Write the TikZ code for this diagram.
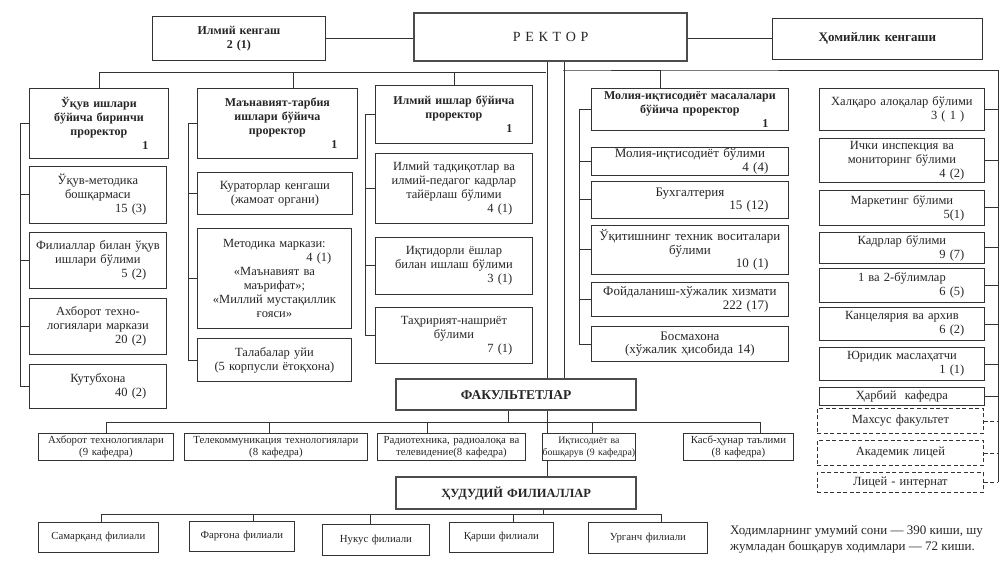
\documentclass[tikz,border=0pt]{standalone}
\usepackage{fontspec}
\setmainfont{Liberation Serif}
\usetikzlibrary{positioning, backgrounds}

\newcommand{\raqam}[1]{\hspace*{\fill}#1\hspace*{20pt}\mbox{}}

\begin{document}
\begin{tikzpicture}[
                x=1pt, y=-1pt,
                every node/.style={font=\fontsize{12.5}{14}\selectfont, text=black!85},
                box/.style 2 args={draw=black!80, fill=white, line width=0.8pt, anchor=north west, inner xsep=0pt, inner ysep=0.5pt, align=center, text width=#1pt, minimum width=#1pt, minimum height=#2pt},
                head/.style={font=\fontsize{12}{14}\selectfont\bfseries},
                wide/.style={font=\fontsize{13}{13.5}\selectfont},
                small/.style={font=\fontsize{10.8}{12}\selectfont},
                bigbox/.style={line width=2.4pt, draw=black!70},
                dbox/.style={dash pattern=on 4pt off 2.5pt},
                link/.style={draw=black!80, line width=0.8pt}
            ]
            \useasboundingbox (0,0) rectangle (1002,580);

            % Rahbariyat
            \node[box={173}{44}, head] (kengash) at (152,16) {Илмий кенгаш\\2 (1)};
            \node[box={273}{48}, bigbox, font=\fontsize{14}{16}\selectfont] (rektor) at (413,12) {Р Е К Т О Р};
            \node[box={210}{41}, head, font=\fontsize{13}{14}\selectfont\bfseries] (homiy) at (772,18) {Ҳомийлик кенгаши};

            % Ustun 1
            \node[box={139}{70}, head] (uq1) at (29,88) {Ўқув ишлари\\бўйича биринчи\\проректор\\\raqam{1}};
            \node[box={137}{57}] (uq2) at (29,166) {Ўқув-методика\\бошқармаси\\\raqam{15 (3)}};
            \node[box={137}{56}] (uq3) at (29,232) {Филиаллар билан ўқув\\ишлари бўлими\\\raqam{5 (2)}};
            \node[box={137}{56}] (uq4) at (29,298) {Ахборот техно-\\логиялари маркази\\\raqam{20 (2)}};
            \node[box={137}{44}] (uq5) at (29,364) {Кутубхона\\\raqam{40 (2)}};

            % Ustun 2
            \node[box={160}{70}, head] (mt1) at (197,88) {Маънавият-тарбия\\ишлари бўйича\\проректор\\\raqam{1}};
            \node[box={155}{42}] (mt2) at (197,172) {Кураторлар кенгаши\\(жамоат органи)};
            \node[box={154}{100}] (mt3) at (197,228) {Методика маркази:\\\raqam{4 (1)}\\«Маънавият ва\\маърифат»;\\«Миллий мустақиллик\\ғояси»};
            \node[box={154}{43}] (mt4) at (197,338) {Талабалар уйи\\(5 корпусли ётоқхона)};

            % Ustun 3
            \node[box={157}{58}, head] (il1) at (375,85) {Илмий ишлар бўйича\\проректор\\\raqam{1}};
            \node[box={157}{70}] (il2) at (375,153) {Илмий тадқиқотлар ва\\илмий-педагог кадрлар\\тайёрлаш бўлими\\\raqam{4 (1)}};
            \node[box={157}{57}] (il3) at (375,237) {Иқтидорли ёшлар\\билан ишлаш бўлими\\\raqam{3 (1)}};
            \node[box={157}{56}] (il4) at (375,307) {Таҳририят-нашриёт\\бўлими\\\raqam{7 (1)}};

            % Ustun 4
            \node[box={197}{42}, head] (mol1) at (591,88) {Молия-иқтисодиёт масалалари\\бўйича проректор\\\raqam{1}};
            \node[box={197}{28}, wide] (mol2) at (591,147) {Молия-иқтисодиёт бўлими\\\raqam{4 (4)}};
            \node[box={197}{37}, wide] (mol3) at (591,181) {Бухгалтерия\\\raqam{15 (12)}};
            \node[box={197}{49}, wide] (mol4) at (591,225) {Ўқитишнинг техник воситалари\\бўлими\\\raqam{10 (1)}};
            \node[box={197}{34}, wide] (mol5) at (591,282) {Фойдаланиш-хўжалик хизмати\\\raqam{222 (17)}};
            \node[box={197}{35}, wide] (mol6) at (591,326) {Босмахона\\(хўжалик ҳисобида 14)};

            % Ustun 5
            \node[box={165}{42}] (xal1) at (819,88) {Халқаро алоқалар бўлими\\\raqam{3 ( 1 )}};
            \node[box={165}{44}] (xal2) at (819,138) {Ички инспекция ва\\мониторинг бўлими\\\raqam{4 (2)}};
            \node[box={165}{35}] (xal3) at (819,190) {Маркетинг бўлими\\\raqam{5(1)}};
            \node[box={165}{31}] (xal4) at (819,232) {Кадрлар бўлими\\\raqam{9 (7)}};
            \node[box={165}{34}] (xal5) at (819,268) {1 ва 2-бўлимлар\\\raqam{6 (5)}};
            \node[box={165}{33}] (xal6) at (819,307) {Канцелярия ва архив\\\raqam{6 (2)}};
            \node[box={165}{33}] (xal7) at (819,347) {Юридик маслаҳатчи\\\raqam{1 (1)}};
            \node[box={165}{18}] (xal8) at (819,387) {Ҳарбий\ \ кафедра};
            \node[box={166}{25}, dbox] (xal9) at (817,408) {Махсус факультет};
            \node[box={166}{25}, dbox] (xal10) at (817,440) {Академик лицей};
            \node[box={166}{20}, dbox] (xal11) at (817,472) {Лицей - интернат};

            % Fakultetlar
            \node[box={240}{31}, bigbox, font=\fontsize{13.5}{14}\selectfont\bfseries] (fak) at (395,378) {ФАКУЛЬТЕТЛАР};
            \node[box={135}{27}, small] (f1) at (38,433) {Ахборот технологиялари\\(9 кафедра)};
            \node[box={183}{27}, small] (f2) at (184,433) {Телекоммуникация технологиялари\\(8 кафедра)};
            \node[box={148}{27}, small] (f3) at (377,433) {Радиотехника, радиоалоқа ва\\телевидение(8 кафедра)};
            \node[box={93}{27}, small, font=\fontsize{9.8}{12}\selectfont] (f4) at (542,433) {Иқтисодиёт ва\\бошқарув (9 кафедра)};
            \node[box={110}{27}, small] (f5) at (683,433) {Касб-ҳунар таълими\\(8 кафедра)};

            % Filiallar
            \node[box={240}{32}, bigbox, font=\fontsize{12.5}{14}\selectfont\bfseries] (hud) at (395,476) {ҲУДУДИЙ ФИЛИАЛЛАР};
            \node[box={120}{30}, small] (b1) at (38,522) {Самарқанд филиали};
            \node[box={105}{30}, small] (b2) at (189,521) {Фарғона филиали};
            \node[box={107}{31}, small] (b3) at (322,524) {Нукус филиали};
            \node[box={104}{30}, small] (b4) at (449,522) {Қарши филиали};
            \node[box={119}{31}, small] (b5) at (588,522) {Урганч филиали};

            \node[anchor=north west, align=left, inner sep=0pt, font=\fontsize{13}{16}\selectfont] (izoh) at (730,525) {Ходимларнинг умумий сони — 390 киши, шу\\жумладан бошқарув ходимлари — 72 киши.};

            \coordinate (busL) at (546,72);
            \coordinate (busR) at (563,70);
            \coordinate (busRR) at (998,70);
            \path ([xshift=-8pt]fak.south) ++(0,11) coordinate (fbus);
            \path ([xshift=27pt]hud.south) ++(0,4) coordinate (hbus);

            \begin{scope}[on background layer]
                \fill[white] (0,0) rectangle (1002,580);
                % Rektor bilan bog'lanish
                \draw[link] (kengash.east) -- (kengash.east -| rektor.west);
                \draw[link] (homiy.west) -- (homiy.west -| rektor.east);
                \draw[link] ([xshift=-3.5pt]rektor.south) -- ([xshift=-3.5pt]rektor.south |- hud.north);
                \draw[link] ([xshift=13.5pt]rektor.south) -- ([xshift=13.5pt]rektor.south |- fak.north);
                \draw[link] (uq1.north) |- (busL);
                \draw[link] ([xshift=16pt]mt1.north) |- (busL);
                \draw[link] (il1.north) |- (busL);
                \draw[link] ([xshift=-29.5pt]mol1.north) |- (busR) -- (busRR) -- (busRR |- xal11.east);

                % Ustunlar ichida
                \draw[link] (uq1.west) -- ++(-9,0) |- (uq5.west) (uq2.west) -- ++(-9,0) (uq3.west) -- ++(-9,0) (uq4.west) -- ++(-9,0);
                \draw[link] (mt1.west) -- ++(-9,0) |- (mt4.west) (mt2.west) -- ++(-9,0) (mt3.west) -- ++(-9,0);
                \draw[link] (il1.west) -- ++(-10,0) |- (il4.west) (il2.west) -- ++(-10,0) (il3.west) -- ++(-10,0);
                \draw[link] (mol1.west) -- ++(-12,0) |- (mol6.west) (mol2.west) -- ++(-12,0) (mol3.west) -- ++(-12,0) (mol4.west) -- ++(-12,0) (mol5.west) -- ++(-12,0);
                \draw[link] (xal1.east) -- (xal1.east -| busRR) (xal2.east) -- (xal2.east -| busRR) (xal3.east) -- (xal3.east -| busRR) (xal4.east) -- (xal4.east -| busRR)
                            (xal5.east) -- (xal5.east -| busRR) (xal6.east) -- (xal6.east -| busRR) (xal7.east) -- (xal7.east -| busRR) (xal8.east) -- (xal8.east -| busRR);
                \draw[link, dbox] (xal9.east) -- (xal9.east -| busRR) (xal10.east) -- (xal10.east -| busRR) (xal11.east) -- (xal11.east -| busRR);

                % Fakultetlar va filiallar
                \draw[link] ([xshift=-8pt]fak.south) -- (fbus);
                \draw[link] (f1.north) |- (fbus) -| ([xshift=22pt]f5.north);
                \draw[link] ([xshift=-7pt]f2.north) |- (fbus);
                \draw[link] ([xshift=-24pt]f3.north) |- (fbus);
                \draw[link] ([xshift=3.5pt]f4.north) |- (fbus);
                \draw[link] ([xshift=27pt]hud.south) -- (hbus);
                \draw[link] ([xshift=3pt]b1.north) |- (hbus) -| ([xshift=13.5pt]b5.north);
                \draw[link] ([xshift=11.5pt]b2.north) |- (hbus);
                \draw[link] ([xshift=-5.5pt]b3.north) |- (hbus);
                \draw[link] ([xshift=12pt]b4.north) |- (hbus);
            \end{scope}
        \end{tikzpicture}
\end{document}
